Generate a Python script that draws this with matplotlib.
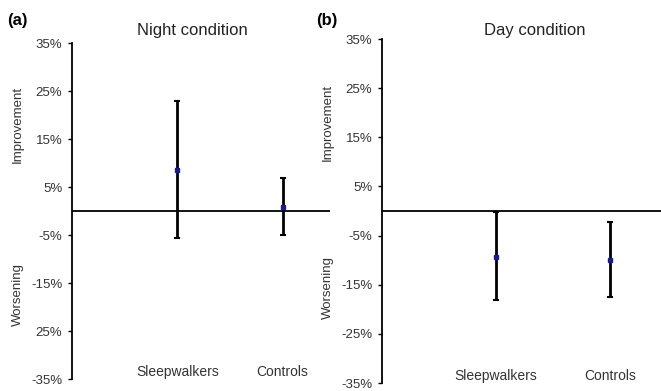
import matplotlib.pyplot as plt
import numpy as np

plt.rcParams['font.family'] = ['Liberation Sans', 'DejaVu Sans']

groups = ['Sleepwalkers', 'Controls']
night_mean = [8.6, 0.8]
night_upper = [23.0, 6.9]
night_lower = [-5.6, -5.0]
day_mean = [-9.4, -10.0]
day_upper = [-0.2, -2.2]
day_lower = [-18.1, -17.5]

yticks = [35, 25, 15, 5, -5, -15, -25, -35]
night_ticklabels = ['35%', '25%', '15%', '5%', '-5%', '-15%', '25%', '-35%']
day_ticklabels = ['35%', '25%', '15%', '5%', '-5%', '-15%', '-25%', '-35%']

W, H = 661, 391
fig = plt.figure(figsize=(W / 100, H / 100), dpi=100)
ax1 = fig.add_axes([72 / W, 1 - 379 / H, 258 / W, 336 / H])
ax2 = fig.add_axes([382 / W, 1 - 383 / H, 279 / W, 344 / H])


def draw_panel(ax, mean, upper, lower, ticklabels, worse_y):
    x = np.arange(1, len(groups) + 1)
    mean = np.array(mean)
    err = [mean - np.array(lower), np.array(upper) - mean]
    ax.errorbar(x, mean, yerr=err, fmt='s', color='#1a1a8c', markersize=3.5,
                ecolor='black', elinewidth=2, capsize=2, capthick=1.5, zorder=3)
    ax.axhline(0, color='black', lw=1.3, zorder=2)
    ax.set_xlim(0, 2.45)
    ax.set_ylim(-35, 35)
    ax.set_yticks(yticks)
    ax.set_yticklabels(ticklabels, fontsize=9.5, color='#333333')
    ax.tick_params(axis='y', length=3, width=1, pad=4)
    ax.set_xticks([])
    for s in ['top', 'right', 'bottom']:
        ax.spines[s].set_visible(False)
    ax.spines['left'].set_linewidth(1.3)
    for xi, g in zip(x, groups):
        ax.text(xi, -33.5, g, ha='center', va='center', fontsize=10, color='#333333')
    for txt, yv in [('Improvement', 18), ('Worsening', worse_y)]:
        ax.annotate(txt, xy=(0, yv), xycoords=('axes fraction', 'data'),
                    xytext=(-54, 0), textcoords='offset pixels', rotation=90,
                    ha='center', va='center', fontsize=9.5, color='#333333')


draw_panel(ax1, night_mean, night_upper, night_lower, night_ticklabels, -17.5)
draw_panel(ax2, day_mean, day_upper, day_lower, day_ticklabels, -15.5)

fig.text(192 / W, 1 - 31 / H, 'Night condition', ha='center', va='center',
         fontsize=12, color='#222222')
fig.text(535 / W, 1 - 31 / H, 'Day condition', ha='center', va='center',
         fontsize=12, color='#222222')
fig.text(7 / W, 1 - 20 / H, '(a)', fontsize=12, fontweight='bold', va='center')
fig.text(316 / W, 1 - 20 / H, '(b)', fontsize=12, fontweight='bold', va='center')

fig.savefig('out.png', dpi=100)
